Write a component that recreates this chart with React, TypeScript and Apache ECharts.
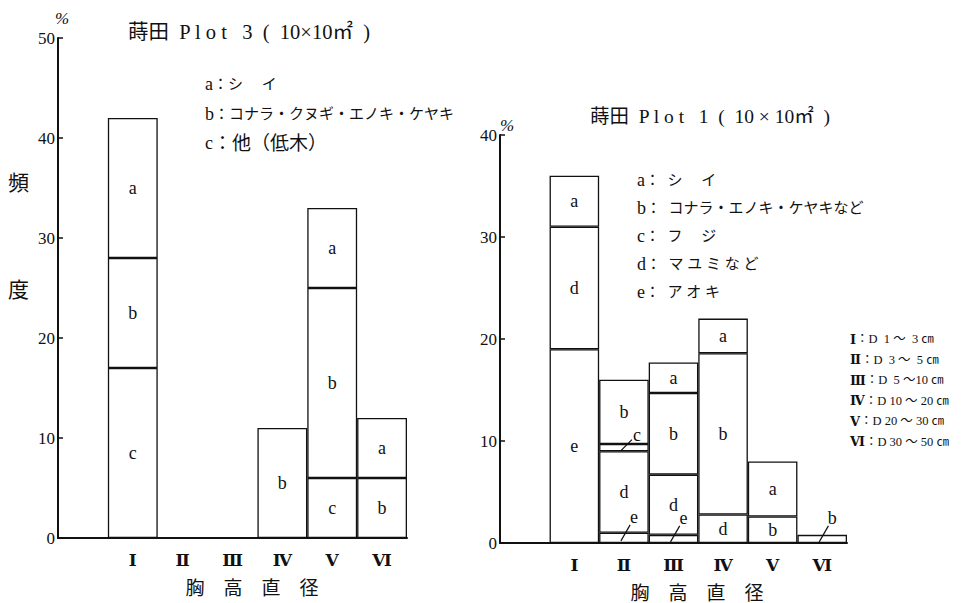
import React, { useEffect, useRef } from "react";
import * as echarts from "echarts";

const categories = ["", "Ⅰ", "Ⅱ", "Ⅲ", "Ⅳ", "Ⅴ", "Ⅵ"];

// 蒔田 Plot 3 (stack order bottom → top: c, b, a)
const plot3C = [null, 17, null, null, null, 6, null];
const plot3B = [null, 11, null, null, 11, 19, 6];
const plot3A = [null, 14, null, null, null, 8, 6];

// 蒔田 Plot 1 (stack order bottom → top: e, d, c, b, a)
const plot1E = [null, 19, 1, 0.8, null, null, null];
const plot1D = [null, 12, 8, 5.9, 2.8, null, null];
const plot1C = [null, null, 0.7, null, null, null, null];
const plot1B = [null, null, 6.3, 8, 15.8, 2.6, 0.8];
const plot1A = [null, 5, null, 3, 3.4, 5.4, null];

const plot3Ticks = [0, 10, 20, 30, 40, 50];
const plot1Ticks = [0, 10, 20, 30, 40];

const plot3Title = "蒔田  P l o t   3  (  10×10㎡  )";
const plot1Title = "蒔田  P l o t   1  (  10 × 10㎡  )";
const plot3Legend: [string, string][] = [
  ["a", "：シ　 イ"],
  ["b", "：コナラ・クヌギ・エノキ・ケヤキ"],
  ["c", "：他（低木）"],
];
const plot1Legend: [string, string][] = [
  ["a", "：  シ　 イ"],
  ["b", "：  コナラ・エノキ・ケヤキなど"],
  ["c", "：  フ　 ジ"],
  ["d", "：  マ ユ ミ な ど"],
  ["e", "：  ア オ キ"],
];
const sizeRoman = ["Ⅰ", "Ⅱ", "Ⅲ", "Ⅳ", "Ⅴ", "Ⅵ"];
const sizeRange = ["D  1 ～  3 ㎝", "D  3 ～  5 ㎝", "D  5 ～10 ㎝", "D 10 ～ 20 ㎝", "D 20 ～ 30 ㎝", "D 30 ～ 50 ㎝"];
const xName = "胸　高　直　径";

// labels of thin Plot 1 segments drawn outside with a leader (series name, category index, dx, dy)
const outsideLabels: [string, number, number, number][] = [
  ["c", 2, 13, -13],
  ["e", 2, 10, -21],
  ["e", 3, 10, -21],
  ["b", 6, 10, -21],
];

const FONT = "'Liberation Serif', 'DejaVu Serif', 'Noto Sans CJK JP', serif";
const JFONT = "'Liberation Serif', 'Noto Sans CJK JP', serif";
const INK = "#111";

const plot1Stack: [string, (number | null)[]][] = [
  ["e", plot1E],
  ["d", plot1D],
  ["c", plot1C],
  ["b", plot1B],
  ["a", plot1A],
];

function makeSeries(name: string, data: (number | null)[], gridIdx: number, stack: string) {
  return {
    type: "bar",
    name,
    stack,
    xAxisIndex: gridIdx,
    yAxisIndex: gridIdx,
    barCategoryGap: "0%",
    data,
    itemStyle: { color: "#fff", borderColor: INK, borderWidth: 1.3 },
    label: {
      show: true,
      position: "inside",
      color: INK,
      fontSize: 18,
      fontFamily: FONT,
      formatter: (p: any) => (p.value == null ? "" : name),
    },
    labelLayout: (p: any) => {
      if (gridIdx !== 1) return {};
      const out = outsideLabels.find((o) => o[0] === name && o[1] === p.dataIndex);
      if (!out) return {};
      return { dx: out[2], dy: out[3] };
    },
  };
}

export default function App() {
  const ref = useRef<HTMLDivElement>(null);
  useEffect(() => {
    if (!ref.current) return;
    const chart = echarts.init(ref.current, null, { renderer: "svg" });
    const axisLine = { show: true, lineStyle: { color: INK, width: 2 } };
    const yAxisCommon = (max: number) => ({
      type: "value",
      min: 0,
      max,
      interval: 10,
      axisLine,
      axisTick: { show: true, inside: true, length: 5, lineStyle: { color: INK, width: 1.5 } },
      axisLabel: { color: INK, fontSize: 17, fontFamily: FONT, margin: 3 },
      splitLine: { show: false },
    });
    const xAxisCommon = {
      type: "category",
      data: categories,
      axisLine,
      axisTick: { show: false },
      axisLabel: { color: INK, fontSize: 17, fontFamily: FONT, fontWeight: "bold", margin: 14 },
    };
    const graphic: any[] = [];
    const txt = (x: number, y: number, text: string, fontSize: number, font = JFONT, align = "left", extra: any = {}) => {
      graphic.push({
        type: "text",
        x,
        y,
        z: 100,
        style: { text, fontSize, fontFamily: font, fill: INK, textAlign: align, textVerticalAlign: "middle", ...extra },
      });
    };
    const legendRow = (x: number, y: number, letter: string, rest: string, jSize: number) => {
      txt(x, y, `{l|${letter}}{j|${rest}}`, jSize, JFONT, "left", {
        rich: {
          l: { fontSize: 18, fontFamily: FONT, fill: INK },
          j: { fontSize: jSize, fontFamily: JFONT, fill: INK },
        },
      });
    };
    txt(128, 32, plot3Title, 20.5);
    txt(590, 116, plot1Title, 19.5);
    plot3Legend.forEach(([l, s], i) => legendRow(205, 84 + i * 29.5, l, s, i === 2 ? 19 : 15));
    plot1Legend.forEach(([l, s], i) => legendRow(637, 180 + i * 28, l, s, 15));
    sizeRoman.forEach((r, i) => {
      txt(850, 339 + i * 20.5, `{r|${r}}{t|：${sizeRange[i]}}`, 12.5, FONT, "left", {
        rich: {
          r: { fontSize: 13, fontFamily: FONT, fontWeight: "bold", fill: INK },
          t: { fontSize: 12.5, fontFamily: FONT, fill: INK },
        },
      });
    });
    txt(8, 183, "頻", 21);
    txt(8, 290, "度", 21);
    txt(55, 18, "%", 17, FONT, "left", { fontStyle: "italic" });
    txt(500, 125, "%", 17, FONT, "left", { fontStyle: "italic" });
    txt(252, 588, xName, 19, JFONT, "center");
    txt(697, 593, xName, 19, JFONT, "center");

    const opt: any = {
      animation: false,
      backgroundColor: "#fff",
      grid: [
        { left: 58, top: 38, width: 349, height: 500 },
        { left: 500, top: 135, width: 347, height: 408 },
      ],
      xAxis: [
        { ...xAxisCommon, gridIndex: 0 },
        { ...xAxisCommon, gridIndex: 1 },
      ],
      yAxis: [
        { ...yAxisCommon(plot3Ticks[plot3Ticks.length - 1]), gridIndex: 0 },
        { ...yAxisCommon(plot1Ticks[plot1Ticks.length - 1]), gridIndex: 1 },
      ],
      series: [
        makeSeries("c", plot3C, 0, "p3"),
        makeSeries("b", plot3B, 0, "p3"),
        makeSeries("a", plot3A, 0, "p3"),
        ...plot1Stack.map(([n, d]) => makeSeries(n, d, 1, "p1")),
      ],
      graphic,
    };
    chart.setOption(opt);

    // leader lines for thin segments, positioned from the data through the axes
    const leaders: any[] = [];
    outsideLabels.forEach(([name, idx, dx, dy]) => {
      let base = 0;
      let val = 0;
      for (const [n, d] of plot1Stack) {
        if (n === name) {
          val = (d[idx] as number) || 0;
          break;
        }
        base += (d[idx] as number) || 0;
      }
      const p = chart.convertToPixel({ xAxisIndex: 1, yAxisIndex: 1 }, [idx, base + val / 2]) as number[];
      if (!p) return;
      leaders.push({
        type: "line",
        z: 100,
        shape: { x1: p[0] - 3, y1: p[1] + 3, x2: p[0] + dx * 0.62, y2: p[1] + dy * 0.62 },
        style: { stroke: INK, lineWidth: 1.2 },
      });
    });
    chart.setOption({ graphic: [...graphic, ...leaders] });
    return () => chart.dispose();
  }, []);
  return (
    <div
      ref={ref}
      style={{ position: "fixed", left: 0, top: 0, width: 978, height: 603, background: "#fff" }}
    />
  );
}
